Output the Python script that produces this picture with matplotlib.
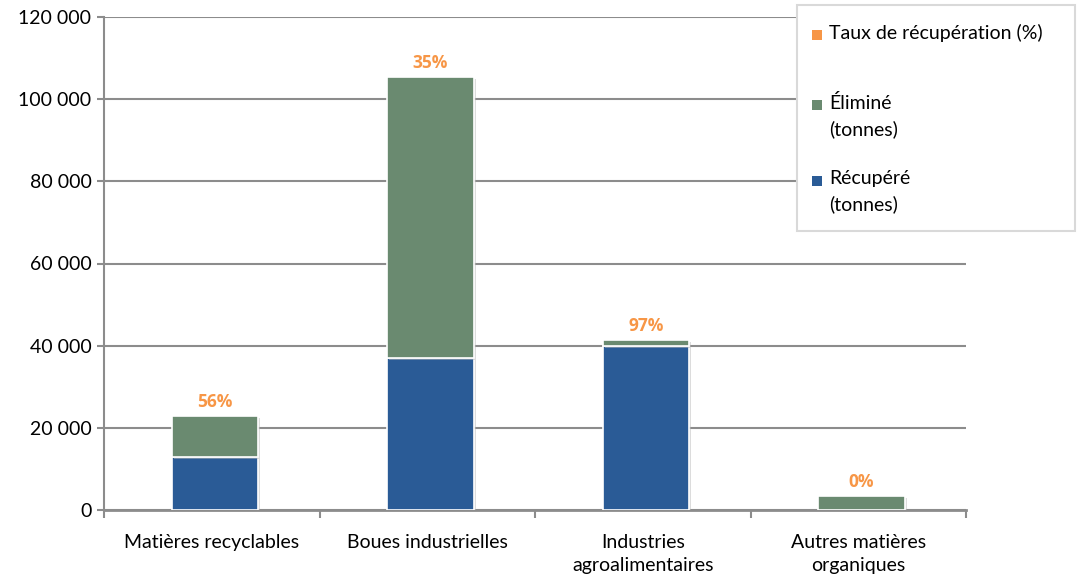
import matplotlib
matplotlib.use("Agg")
import matplotlib.pyplot as plt
from matplotlib.patches import Rectangle
import matplotlib.patheffects as pe
import numpy as np

plt.rcParams['font.family'] = ['Lato', 'DejaVu Sans']

categories = ["Matières recyclables", "Boues industrielles", "Industries\nagroalimentaires", "Autres matières\norganiques"]
recovered = [13000, 37000, 40000, 0]
eliminated = [10000, 68500, 1300, 3500]
rates = ["56%", "35%", "97%", "0%"]
yticks = [0, 20000, 40000, 60000, 80000, 100000, 120000]
ytick_labels = ["0", "20 000", "40 000", "60 000", "80 000", "100 000", "120 000"]
legend_labels = ["Taux de récupération (%)", "Éliminé\n(tonnes)", "Récupéré\n(tonnes)"]

c_blue = "#2A5B96"
c_green = "#6A8A70"
c_orange = "#F79646"
c_grid = "#8C8C8C"

W, H = 1078, 577
fig = plt.figure(figsize=(W / 100, H / 100), dpi=100)
ax = fig.add_axes([104 / W, 1 - 510 / H, (966 - 104) / W, (510 - 17) / H])

x = np.arange(len(categories))
shadow = [pe.SimplePatchShadow(offset=(1.5, -1.5), shadow_rgbFace="#bbbbbb", alpha=0.5), pe.Normal()]
b1 = ax.bar(x + 0.015, recovered, width=0.4, color=c_blue, edgecolor="white", linewidth=1.2, zorder=3)
b2 = ax.bar(x + 0.015, eliminated, width=0.4, bottom=recovered, color=c_green, edgecolor="white", linewidth=1.2, zorder=3)
for b in list(b1) + list(b2):
    b.set_path_effects(shadow)

for i in range(len(categories)):
    total = recovered[i] + eliminated[i]
    ax.text(x[i] + 0.015, total + 1200, rates[i], ha="center", va="bottom", color=c_orange,
            fontsize=12.5, fontweight="bold", family=["Open Sans", "DejaVu Sans"], zorder=4)

ax.set_xlim(-0.5, len(categories) - 0.5)
ax.set_ylim(0, 120000)
ax.set_yticks(yticks)
ax.set_yticklabels(ytick_labels, fontsize=14)
ax.yaxis.grid(True, color=c_grid, linewidth=1.5, zorder=0)
ax.set_axisbelow(True)

ax.set_xticks(x)
ax.set_xticklabels(categories, fontsize=14, linespacing=1.45)
ax.tick_params(axis="x", length=0, pad=17)
ax.set_xticks(np.arange(-0.5, len(categories), 1.0), minor=True)
ax.tick_params(axis="x", which="minor", length=6, color=c_grid, width=1.5, direction="out")
ax.tick_params(axis="y", length=5, color=c_grid, width=1.5, pad=4)

for s in ["top", "right"]:
    ax.spines[s].set_visible(False)
ax.spines["left"].set_color(c_grid)
ax.spines["left"].set_linewidth(1.5)
ax.spines["bottom"].set_color(c_grid)
ax.spines["bottom"].set_linewidth(2)

# legend box
def fx(px):
    return px / W
def fy(py):
    return 1 - py / H

fig.add_artist(Rectangle((fx(797), fy(231)), fx(1075) - fx(797), fy(5) - fy(231),
                         transform=fig.transFigure, facecolor="white", edgecolor="#D9D9D9",
                         linewidth=1.5, zorder=5))
leg_colors = [c_orange, c_green, c_blue]
leg_y = [35, 105, 181]
for lab, col, yy in zip(legend_labels, leg_colors, leg_y):
    fig.add_artist(Rectangle((fx(812), fy(yy + 5)), fx(822) - fx(812), fy(yy - 5) - fy(yy + 5),
                             transform=fig.transFigure, facecolor=col, edgecolor="none", zorder=6))
    fig.text(fx(829), fy(yy - 11), lab, ha="left", va="top", fontsize=14,
             linespacing=1.55, zorder=6)

fig.savefig("out.png", dpi=100)
